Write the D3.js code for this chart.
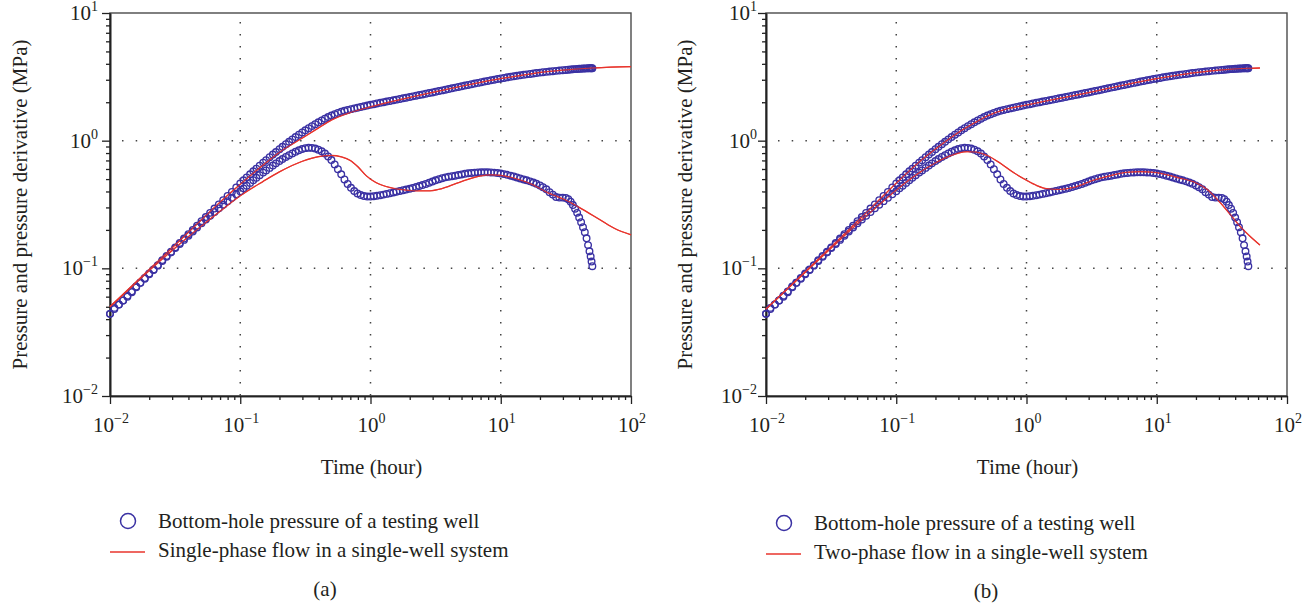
<!DOCTYPE html>
<html>
<head>
<meta charset="utf-8">
<script src="https://cdn.jsdelivr.net/npm/d3@7"></script>
<style>
  body { margin: 0; background: #fff; }
  svg text { font-family: "Liberation Serif", "Times New Roman", serif; fill: #231f20; }
</style>
</head>
<body>
<div id="root"></div>
<script>
// observed well-test data (same in both panels)
const obsTime = [
  0.0100, 0.0108, 0.0117, 0.0126, 0.0136, 0.0147, 0.0159, 0.0171, 0.0185, 0.0200,
  0.0216, 0.0233, 0.0252, 0.0272, 0.0294, 0.0317, 0.0343, 0.0370, 0.0400, 0.0432,
  0.0466, 0.0504, 0.0544, 0.0587, 0.0634, 0.0685, 0.0740, 0.0799, 0.0863, 0.0932,
  0.100, 0.106, 0.112, 0.119, 0.126, 0.133, 0.141, 0.150, 0.158, 0.168,
  0.178, 0.188, 0.200, 0.211, 0.224, 0.237, 0.251, 0.266, 0.282, 0.299,
  0.316, 0.335, 0.355, 0.376, 0.398, 0.422, 0.447, 0.473, 0.501, 0.531,
  0.562, 0.596, 0.631, 0.668, 0.708, 0.750, 0.794, 0.841, 0.891, 0.944,
  1.00, 1.06, 1.12, 1.19, 1.26, 1.33, 1.41, 1.50, 1.58, 1.68,
  1.78, 1.88, 2.00, 2.11, 2.24, 2.37, 2.51, 2.66, 2.82, 2.99,
  3.16, 3.35, 3.55, 3.76, 3.98, 4.22, 4.47, 4.73, 5.01, 5.31,
  5.62, 5.96, 6.31, 6.68, 7.08, 7.50, 7.94, 8.41, 8.91, 9.44,
  10.0, 10.6, 11.2, 11.9, 12.6, 13.3, 14.1, 15.0, 15.8, 16.8,
  17.8, 18.8, 20.0, 21.1, 22.4, 23.7, 25.1, 26.6, 28.2, 29.9,
  31.6, 33.0, 34.4, 35.8, 37.2, 38.6, 40.0, 41.4, 42.8, 44.2,
  45.6, 46.8, 48.0, 49.0, 49.8, 50.5
]
const obsPressure = [
  0.044, 0.049, 0.052, 0.056, 0.061, 0.066, 0.072, 0.077, 0.084, 0.091,
  0.098, 0.106, 0.116, 0.125, 0.135, 0.146, 0.158, 0.171, 0.185, 0.200,
  0.216, 0.234, 0.252, 0.272, 0.294, 0.317, 0.342, 0.369, 0.397, 0.430,
  0.462, 0.489, 0.515, 0.545, 0.575, 0.604, 0.637, 0.673, 0.704, 0.742,
  0.779, 0.815, 0.858, 0.895, 0.938, 0.980, 1.024, 1.068, 1.114, 1.160,
  1.205, 1.252, 1.300, 1.347, 1.393, 1.440, 1.486, 1.530, 1.573, 1.613,
  1.650, 1.684, 1.714, 1.741, 1.766, 1.790, 1.813, 1.836, 1.858, 1.884,
  1.910, 1.932, 1.955, 1.978, 2.001, 2.024, 2.048, 2.072, 2.096, 2.121,
  2.146, 2.171, 2.197, 2.223, 2.249, 2.276, 2.303, 2.331, 2.359, 2.388,
  2.417, 2.447, 2.477, 2.508, 2.539, 2.571, 2.603, 2.635, 2.668, 2.701,
  2.734, 2.768, 2.801, 2.835, 2.869, 2.903, 2.937, 2.971, 3.005, 3.038,
  3.071, 3.102, 3.133, 3.163, 3.193, 3.222, 3.251, 3.279, 3.307, 3.334,
  3.361, 3.387, 3.412, 3.436, 3.459, 3.481, 3.502, 3.522, 3.542, 3.562,
  3.582, 3.596, 3.610, 3.623, 3.635, 3.645, 3.655, 3.663, 3.671, 3.677,
  3.683, 3.687, 3.690, 3.693, 3.695, 3.697
]
const obsDerivative = [
  0.044, 0.048, 0.052, 0.056, 0.060, 0.065, 0.071, 0.077, 0.083, 0.090,
  0.097, 0.105, 0.114, 0.123, 0.133, 0.144, 0.155, 0.167, 0.180, 0.194,
  0.209, 0.225, 0.241, 0.258, 0.276, 0.295, 0.315, 0.336, 0.357, 0.380,
  0.401, 0.423, 0.444, 0.467, 0.490, 0.512, 0.536, 0.562, 0.585, 0.612,
  0.638, 0.664, 0.692, 0.718, 0.745, 0.770, 0.795, 0.818, 0.840, 0.860,
  0.874, 0.880, 0.878, 0.868, 0.850, 0.825, 0.792, 0.752, 0.705, 0.652,
  0.598, 0.545, 0.497, 0.458, 0.427, 0.403, 0.386, 0.375, 0.368, 0.365,
  0.365, 0.367, 0.370, 0.374, 0.378, 0.383, 0.388, 0.393, 0.398, 0.404,
  0.409, 0.414, 0.420, 0.426, 0.433, 0.441, 0.449, 0.458, 0.468, 0.478,
  0.489, 0.499, 0.508, 0.516, 0.522, 0.527, 0.532, 0.538, 0.544, 0.550,
  0.555, 0.559, 0.562, 0.564, 0.565, 0.565, 0.565, 0.564, 0.562, 0.558,
  0.553, 0.547, 0.540, 0.532, 0.524, 0.515, 0.506, 0.497, 0.489, 0.480,
  0.470, 0.459, 0.446, 0.432, 0.416, 0.395, 0.378, 0.362, 0.358, 0.358,
  0.356, 0.348, 0.333, 0.313, 0.293, 0.272, 0.250, 0.230, 0.210, 0.192,
  0.172, 0.152, 0.136, 0.124, 0.113, 0.104
]

// (a) single-phase model
const singleTime = [0.01, 0.02, 0.03, 0.05, 0.07, 0.1, 0.15, 0.2, 0.3, 0.4, 0.5, 0.7, 1, 1.5, 2, 3, 5, 7, 10, 15, 20, 30, 50, 70, 100]
const singlePressure = [0.050, 0.098, 0.145, 0.238, 0.33, 0.455, 0.645, 0.81, 1.05, 1.26, 1.45, 1.66, 1.84, 2.04, 2.18, 2.39, 2.67, 2.86, 3.06, 3.27, 3.42, 3.57, 3.71, 3.77, 3.80]
const singleDerivTime = [0.01, 0.015, 0.02, 0.03, 0.04, 0.05, 0.07, 0.1, 0.15, 0.2, 0.3, 0.4, 0.5, 0.6, 0.7, 0.8, 0.93, 1.1, 1.4, 1.7, 2.2, 2.86, 3.5, 4.5, 5.5, 7, 8.5, 10, 13, 17.8, 22.5, 28, 32, 40, 57.8, 75, 100]
const singleDerivative = [0.050, 0.073, 0.096, 0.138, 0.177, 0.213, 0.28, 0.37, 0.48, 0.57, 0.69, 0.75, 0.765, 0.745, 0.70, 0.625, 0.53, 0.47, 0.43, 0.415, 0.405, 0.405, 0.42, 0.46, 0.495, 0.53, 0.54, 0.535, 0.505, 0.45, 0.395, 0.36, 0.34, 0.30, 0.24, 0.205, 0.183]

// (b) two-phase model
const twoTime = [0.01, 0.02, 0.03, 0.05, 0.07, 0.1, 0.15, 0.2, 0.3, 0.4, 0.5, 0.7, 1, 1.5, 2, 3, 5, 7, 10, 15, 20, 30, 50, 62]
const twoPressure = [0.048, 0.094, 0.140, 0.232, 0.325, 0.465, 0.68, 0.86, 1.16, 1.38, 1.56, 1.77, 1.90, 2.07, 2.19, 2.38, 2.66, 2.86, 3.06, 3.28, 3.41, 3.57, 3.69, 3.71]
const twoDerivTime = [0.01, 0.02, 0.03, 0.05, 0.07, 0.1, 0.15, 0.2, 0.25, 0.3, 0.35, 0.4, 0.44, 0.5, 0.63, 0.8, 1.0, 1.2, 1.43, 1.81, 2.3, 3.27, 4.5, 5.9, 7.5, 9.4, 12, 15, 19.1, 24, 28.9, 35, 43.8, 53, 62]
const twoDerivative = [0.048, 0.093, 0.137, 0.222, 0.30, 0.41, 0.56, 0.67, 0.75, 0.80, 0.82, 0.815, 0.80, 0.765, 0.665, 0.56, 0.49, 0.445, 0.42, 0.415, 0.43, 0.49, 0.535, 0.565, 0.572, 0.565, 0.54, 0.51, 0.477, 0.42, 0.35, 0.28, 0.212, 0.175, 0.152]

const xMajor = [0.01, 0.1, 1, 10, 100]
const yMajor = [0.01, 0.1, 1, 10]
const gridX = [0.1, 1, 10]
const gridY = [0.1, 1]
const expLabel = {0.01: "\u22122", 0.1: "\u22121", 1: "0", 10: "1", 100: "2"}

const w = 1315, h = 609
const plotTop = 13, plotBottom = 396
const blue = "#3a31a3", red = "#e8342c"
const fs = 21

const svg = d3.select("#root").append("svg")
    .attr("width", w)
    .attr("height", h)

function drawPanel(x0, x1, model, legendText, opt) {
    const x = d3.scaleLog().domain([0.01, 100]).range([x0, x1])
    const y = d3.scaleLog().domain([0.01, 10]).range([plotBottom, plotTop])
    const g = svg.append("g")

    // grid
    g.selectAll("line.gx").data(gridX).enter().append("line")
        .attr("x1", d => x(d)).attr("x2", d => x(d))
        .attr("y1", plotTop + 9).attr("y2", plotBottom)
        .attr("stroke", "#444").attr("stroke-width", 1.5)
        .attr("stroke-dasharray", "1.5,10.5")
    g.selectAll("line.gy").data(gridY).enter().append("line")
        .attr("x1", x0 + 12).attr("x2", x1)
        .attr("y1", d => y(d)).attr("y2", d => y(d))
        .attr("stroke", "#444").attr("stroke-width", 1.5)
        .attr("stroke-dasharray", "1.5,12.2")

    // frame
    g.append("rect")
        .attr("x", x0).attr("y", plotTop)
        .attr("width", x1 - x0).attr("height", plotBottom - plotTop)
        .attr("fill", "none").attr("stroke", "#4a4a4a").attr("stroke-width", 1.4)

    // axes
    const xMinor = x.ticks().filter(d => !xMajor.some(m => Math.abs(m - d) < 1e-9))
    const yMinor = y.ticks().filter(d => !yMajor.some(m => Math.abs(m - d) < 1e-9))

    const ax = g.append("g").attr("transform", `translate(0,${plotBottom})`)
    ax.call(d3.axisBottom(x).tickValues(xMinor).tickSize(4).tickSizeOuter(0).tickFormat(""))
    ax.append("g").call(d3.axisBottom(x).tickValues(xMajor).tickSize(8).tickSizeOuter(0).tickFormat(""))
    const ay = g.append("g").attr("transform", `translate(${x0},0)`)
    ay.call(d3.axisLeft(y).tickValues(yMinor).tickSize(4).tickSizeOuter(0).tickFormat(""))
    ay.append("g").call(d3.axisLeft(y).tickValues(yMajor).tickSize(8).tickSizeOuter(0).tickFormat(""))
    g.selectAll(".domain").attr("stroke", "#222").attr("stroke-width", 1.6)
    g.selectAll(".tick line").attr("stroke", "#222").attr("stroke-width", 1.3)

    // tick labels
    const xl = g.selectAll("text.xl").data(xMajor).enter().append("text")
        .attr("x", d => x(d) + 1).attr("y", plotBottom + 36)
        .attr("text-anchor", "middle").attr("font-size", fs)
    xl.append("tspan").text("10")
    xl.append("tspan").attr("dy", -9).attr("font-size", 14).text(d => expLabel[d])

    const yl = g.selectAll("text.yl").data(yMajor).enter().append("text")
        .attr("x", x0 - opt.tickGap).attr("y", d => y(d) + 7)
        .attr("text-anchor", "end").attr("font-size", fs)
    yl.append("tspan").text("10")
    yl.append("tspan").attr("dy", -9).attr("font-size", 14).text(d => expLabel[d])

    // axis titles
    g.append("text")
        .attr("transform", `translate(${x0 - opt.titleGap},${(plotTop + plotBottom) / 2}) rotate(-90)`)
        .attr("text-anchor", "middle").attr("font-size", fs)
        .text("Pressure and pressure derivative (MPa)")
    g.append("text")
        .attr("x", (x0 + x1) / 2 + 1).attr("y", plotBottom + 78)
        .attr("text-anchor", "middle").attr("font-size", fs)
        .text("Time (hour)")

    // model curves
    const line = d3.line()
        .x(d => x(d[0]))
        .y(d => y(d[1]))
        .curve(d3.curveMonotoneX)
    g.append("path").datum(d3.zip(model.pt, model.p))
        .attr("d", line).attr("fill", "none").attr("stroke", red).attr("stroke-width", 1.3)
    g.append("path").datum(d3.zip(model.dt, model.d))
        .attr("d", line).attr("fill", "none").attr("stroke", red).attr("stroke-width", 1.3)

    // observed markers
    const obs = g.append("g").attr("fill", "none").attr("stroke", blue).attr("stroke-width", 1.35)
    obs.selectAll("circle.p").data(d3.zip(obsTime, obsPressure)).enter().append("circle")
        .attr("cx", d => x(d[0])).attr("cy", d => y(d[1])).attr("r", 3.3)
    obs.selectAll("circle.d").data(d3.zip(obsTime, obsDerivative)).enter().append("circle")
        .attr("cx", d => x(d[0])).attr("cy", d => y(d[1])).attr("r", 3.3)

    // model drawn again on top of the markers
    g.append("path").datum(d3.zip(model.pt, model.p))
        .attr("d", line).attr("fill", "none").attr("stroke", red).attr("stroke-width", 1.1).attr("opacity", 0.85)
    g.append("path").datum(d3.zip(model.dt, model.d))
        .attr("d", line).attr("fill", "none").attr("stroke", red).attr("stroke-width", 1.1).attr("opacity", 0.85)

    // legend
    g.append("circle").attr("cx", x0 + 18).attr("cy", 521 + opt.dy).attr("r", 7.5)
        .attr("fill", "none").attr("stroke", blue).attr("stroke-width", 1.5)
    g.append("text").attr("x", x0 + 48).attr("y", 528 + opt.dy).attr("font-size", fs)
        .text("Bottom-hole pressure of a testing well")
    g.append("line").attr("x1", x0).attr("x2", x0 + 35)
        .attr("y1", 552 + opt.dy).attr("y2", 552 + opt.dy)
        .attr("stroke", red).attr("stroke-width", 1.5)
    g.append("text").attr("x", x0 + 48).attr("y", 557 + opt.dy).attr("font-size", fs)
        .text(legendText)

    g.append("text").attr("x", opt.cx).attr("y", 596 + opt.dy)
        .attr("text-anchor", "middle").attr("font-size", fs)
        .text(opt.label)
}

drawPanel(110, 631,
    {pt: singleTime, p: singlePressure, dt: singleDerivTime, d: singleDerivative},
    "Single-phase flow in a single-well system",
    {label: "(a)", cx: 325, dy: 0, tickGap: 12, titleGap: 83})
drawPanel(766, 1287,
    {pt: twoTime, p: twoPressure, dt: twoDerivTime, d: twoDerivative},
    "Two-phase flow in a single-well system",
    {label: "(b)", cx: 986, dy: 2, tickGap: 9, titleGap: 74})
</script>
</body>
</html>
